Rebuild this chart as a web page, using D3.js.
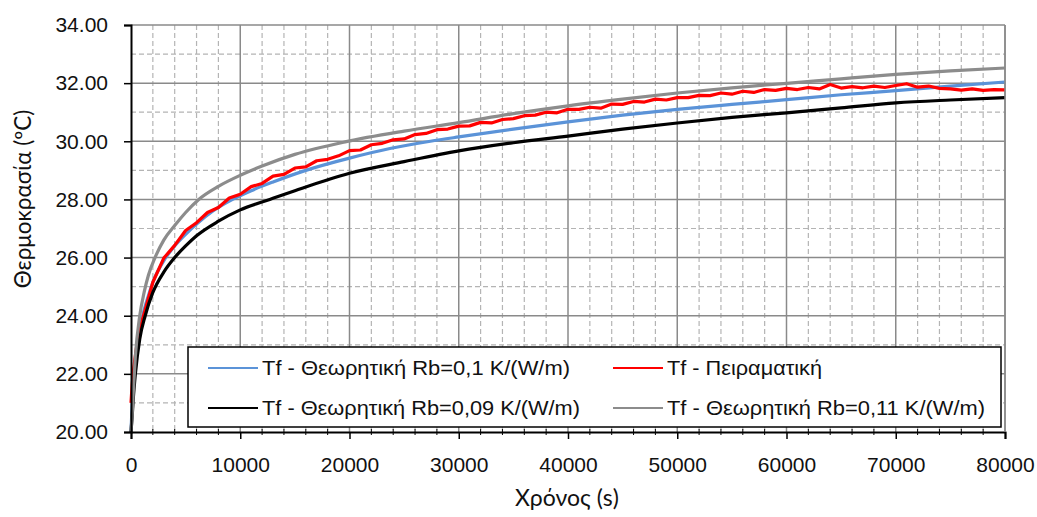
<!DOCTYPE html>
<html>
<head>
<meta charset="utf-8">
<script src="https://cdn.jsdelivr.net/npm/d3@7"></script>
<style>
  html, body { margin: 0; padding: 0; background: #fff; }
  svg { display: block; }
  text { font-family: "Liberation Sans", Arial, sans-serif; fill: #111; }
</style>
</head>
<body>
<svg id="chart" width="1037" height="517"></svg>
<script>
// Fluid temperature vs time: three theoretical curves (different borehole resistance Rb) and the measured one.
const seriesNames = [
  "Tf - Θεωρητική Rb=0,1 K/(W/m)",
  "Tf - Πειραματική",
  "Tf - Θεωρητική Rb=0,09 K/(W/m)",
  "Tf - Θεωρητική Rb=0,11 K/(W/m)"
];
const seriesColors = ["#5b93d8", "#ff0000", "#000000", "#8c8c8c"];

// Theoretical, Rb = 0.10
const timeRb010 = [0,100,200,400,800,1200,1600,2000,3100,4000,5000,6000,7500,9300,11000,13000,16000,20000,23700,27400,30000,35000,40000,45000,50000,55000,60000,65000,70000,75000,80000];
const tempRb010 = [20.0,20.9,21.6,22.5,23.5,24.2,24.7,25.15,25.95,26.4,26.8,27.15,27.6,28.0,28.3,28.6,29.0,29.42,29.75,30.0,30.15,30.42,30.67,30.9,31.1,31.27,31.43,31.6,31.74,31.9,32.04];

// Measured
const timeMeas = [0,100,250,500,750,1000,2000,3000,4000,5000,6000,7000,8000,9000,10000,11000,12000,13000,14000,15000,16000,17000,18000,19000,20000,21000,22000,23000,24000,25000,26000,27000,28000,29000,30000,31000,32000,33000,34000,35000,36000,37000,38000,39000,40000,41000,42000,43000,44000,45000,46000,47000,48000,49000,50000,51000,52000,53000,54000,55000,56000,57000,58000,59000,60000,61000,62000,63000,64000,65000,66000,67000,68000,69000,70000,71000,72000,73000,74000,75000,76000,77000,78000,79000,80000];
const tempMeas = [21.0,21.6,22.2,22.9,23.4,23.8,25.15,25.98,26.42,26.93,27.2,27.55,27.72,28.05,28.18,28.44,28.55,28.8,28.86,29.08,29.12,29.33,29.38,29.5,29.68,29.7,29.88,29.93,30.05,30.08,30.23,30.27,30.4,30.42,30.52,30.53,30.65,30.63,30.75,30.78,30.88,30.9,31.0,30.98,31.1,31.1,31.17,31.14,31.28,31.27,31.37,31.35,31.45,31.42,31.5,31.5,31.58,31.57,31.66,31.62,31.72,31.68,31.78,31.75,31.82,31.78,31.85,31.8,31.95,31.83,31.88,31.84,31.9,31.85,31.92,31.98,31.86,31.9,31.82,31.8,31.76,31.8,31.75,31.78,31.77];

// Theoretical, Rb = 0.09
const timeRb009 = [0,100,200,400,800,1300,2000,3000,4000,5000,6000,8000,10000,12700,15000,20000,25000,30000,35000,40000,45000,50000,55000,60000,65000,70000,75000,80000];
const tempRb009 = [20.0,20.5,21.1,22.0,23.2,24.0,24.8,25.5,26.0,26.4,26.75,27.25,27.64,28.0,28.3,28.9,29.3,29.67,29.95,30.18,30.42,30.63,30.82,30.98,31.15,31.32,31.42,31.5];

// Theoretical, Rb = 0.11
const timeRb011 = [0,100,200,400,800,1200,1600,2200,3000,4000,5000,6200,8000,10000,12000,15000,19600,25000,30000,35000,40000,45000,50000,55000,60300,65000,70000,75000,80000];
const tempRb011 = [20.0,20.6,21.3,22.6,24.0,24.8,25.4,26.0,26.6,27.1,27.55,28.0,28.45,28.83,29.15,29.55,29.98,30.35,30.64,30.95,31.22,31.45,31.66,31.84,32.0,32.15,32.3,32.42,32.52];

const xTicks = [0,10000,20000,30000,40000,50000,60000,70000,80000];
const yTicks = [20,22,24,26,28,30,32,34];

const svg = d3.select("#chart");
const plot = { left: 131, right: 1005, top: 25, bottom: 432 };

const x = d3.scaleLinear().domain([0, 80000]).range([plot.left, plot.right]);
const y = d3.scaleLinear().domain([20, 34]).range([plot.bottom, plot.top]);

// minor dashed grid
const g = svg.append("g");
g.selectAll("line.vminor")
  .data(d3.range(2000, 80000, 2000).filter(v => v % 10000 !== 0))
  .join("line")
  .attr("x1", d => x(d)).attr("x2", d => x(d))
  .attr("y1", plot.top).attr("y2", plot.bottom)
  .attr("stroke", "#b4b4b4").attr("stroke-width", 1.2).attr("stroke-dasharray", "5,3");
g.selectAll("line.hminor")
  .data(d3.range(21, 34, 2))
  .join("line")
  .attr("x1", plot.left).attr("x2", plot.right)
  .attr("y1", d => y(d)).attr("y2", d => y(d))
  .attr("stroke", "#b4b4b4").attr("stroke-width", 1.2).attr("stroke-dasharray", "5,3");

// major solid grid
g.selectAll("line.vmajor")
  .data(xTicks.slice(1))
  .join("line")
  .attr("x1", d => x(d)).attr("x2", d => x(d))
  .attr("y1", plot.top).attr("y2", plot.bottom)
  .attr("stroke", "#8a8a8a").attr("stroke-width", 1.5);
g.selectAll("line.hmajor")
  .data(yTicks.slice(1))
  .join("line")
  .attr("x1", plot.left).attr("x2", plot.right)
  .attr("y1", d => y(d)).attr("y2", d => y(d))
  .attr("stroke", "#8a8a8a").attr("stroke-width", 1.5);

// series
const lineSmooth = d3.line().x(d => x(d[0])).y(d => y(d[1])).curve(d3.curveMonotoneX);
const lineRaw = d3.line().x(d => x(d[0])).y(d => y(d[1]));
const seriesData = [
  d3.zip(timeRb010, tempRb010),
  d3.zip(timeMeas, tempMeas),
  d3.zip(timeRb009, tempRb009),
  d3.zip(timeRb011, tempRb011)
];
seriesData.forEach((pts, i) => {
  svg.append("path")
    .attr("d", (i === 1 ? lineRaw : lineSmooth)(pts))
    .attr("fill", "none")
    .attr("stroke", seriesColors[i])
    .attr("stroke-width", 3.2)
    .attr("stroke-linejoin", "round");
});

// axes
const yAxis = d3.axisLeft(y).tickValues(yTicks).tickFormat(d3.format(".2f")).tickSize(7).tickPadding(16);
const xAxis = d3.axisBottom(x).tickValues(xTicks).tickFormat(d3.format("d")).tickSize(7).tickPadding(18);

const ya = svg.append("g").attr("transform", `translate(${plot.left},0)`).call(yAxis);
const xa = svg.append("g").attr("transform", `translate(0,${plot.bottom})`).call(xAxis);
[ya, xa].forEach(a => {
  a.select(".domain").attr("stroke", "#000").attr("stroke-width", 2);
  a.selectAll(".tick line").attr("stroke", "#000").attr("stroke-width", 1.5);
  a.selectAll(".tick text").style("font-size", "21px").attr("fill", "#1a1a1a");
});

// minor ticks across the time axis
svg.append("g").selectAll("line")
  .data(d3.range(2000, 80000, 2000).filter(v => v % 10000 !== 0))
  .join("line")
  .attr("x1", d => x(d)).attr("x2", d => x(d))
  .attr("y1", plot.bottom - 3).attr("y2", plot.bottom + 3)
  .attr("stroke", "#000").attr("stroke-width", 1);

// right border
svg.append("line")
  .attr("x1", plot.right).attr("x2", plot.right)
  .attr("y1", plot.top).attr("y2", plot.bottom)
  .attr("stroke", "#8a8a8a").attr("stroke-width", 1.5);

// axis titles
svg.append("text")
  .attr("x", 567).attr("y", 506)
  .attr("text-anchor", "middle")
  .style("font-family", "Lato, 'Open Sans', sans-serif")
  .style("font-size", "23px")
  .text("Χρόνος (s)");
svg.append("text")
  .attr("transform", "translate(31,199) rotate(-90)")
  .attr("text-anchor", "middle")
  .style("font-family", "Lato, 'Open Sans', sans-serif")
  .style("font-size", "22.5px")
  .text("Θερμοκρασία (ºC)");

// legend
const legend = svg.append("g");
legend.append("rect")
  .attr("x", 188).attr("y", 347).attr("width", 813).attr("height", 80)
  .attr("fill", "#fff").attr("stroke", "#000").attr("stroke-width", 1.5);
const legendPos = [
  { lx: 208, ly: 368, w: 308 },
  { lx: 613, ly: 368, w: 155 },
  { lx: 208, ly: 408, w: 318 },
  { lx: 613, ly: 408, w: 318 }
];
seriesNames.forEach((name, i) => {
  const p = legendPos[i];
  legend.append("line")
    .attr("x1", p.lx).attr("x2", p.lx + 50)
    .attr("y1", p.ly).attr("y2", p.ly)
    .attr("stroke", seriesColors[i]).attr("stroke-width", 2);
  legend.append("text")
    .attr("x", p.lx + 54).attr("y", p.ly + 7)
    .attr("textLength", p.w)
    .attr("lengthAdjust", "spacingAndGlyphs")
    .style("font-size", "20px")
    .text(name);
});
</script>
</body>
</html>
